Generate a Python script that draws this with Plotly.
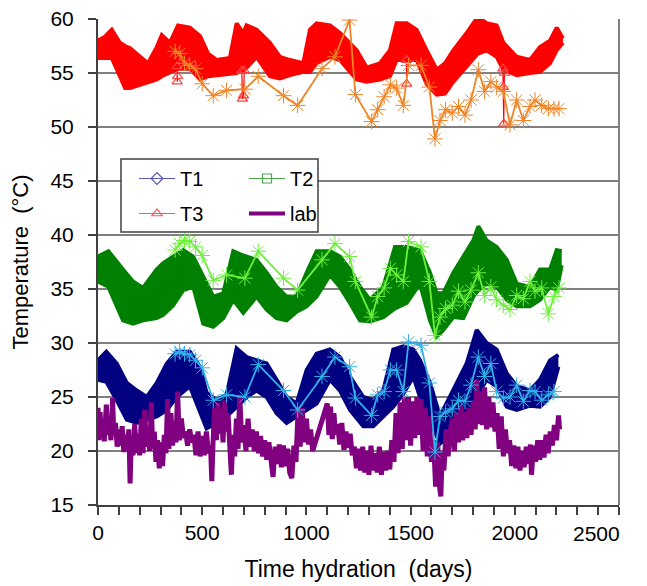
import plotly.graph_objects as go

# ---- continuous logger records: lower / upper envelope of the daily swing ----
t1_day = [0, 40, 90, 138, 186, 234, 282, 330, 378, 441, 489, 521, 569, 617, 665, 713, 761, 809, 857, 905,
          953, 1001, 1049, 1113, 1161, 1209, 1273, 1321, 1369, 1417, 1465, 1513, 1545, 1593, 1641, 1673,
          1721, 1769, 1817, 1865, 1913, 1961, 2009, 2073, 2121, 2169, 2209]
t1_lo = [26.6, 26.4, 24.7, 22.9, 22.6, 22.9, 23.2, 23.8, 25.0, 26.0, 23.5, 22.1, 22.6, 23.2, 24.1, 25.0, 25.6,
         25.0, 23.5, 22.6, 23.2, 23.8, 24.4, 26.6, 25.6, 23.8, 22.3, 22.3, 23.2, 24.1, 25.3, 26.9, 25.0, 22.9,
         20.7, 21.2, 22.6, 23.5, 25.0, 26.6, 26.0, 24.1, 23.8, 24.2, 24.1, 25.0, 27.8]
t1_hi = [28.4, 29.2, 28.1, 26.3, 25.6, 25.0, 26.3, 28.1, 29.2, 29.2, 27.8, 25.4, 24.7, 25.2, 29.5, 28.7, 28.4,
         28.1, 26.6, 25.0, 24.4, 27.5, 29.0, 29.4, 28.7, 26.9, 25.0, 24.7, 25.6, 29.4, 29.7, 29.4, 28.4, 26.3,
         23.2, 24.4, 26.3, 28.1, 31.2, 30.0, 29.4, 27.2, 26.0, 25.6, 26.6, 28.4, 28.9]

t2_day = [0, 50, 120, 168, 216, 281, 313, 361, 409, 457, 505, 553, 601, 649, 697, 761, 809, 857, 905, 953,
          1001, 1049, 1113, 1161, 1209, 1257, 1305, 1369, 1425, 1481, 1545, 1593, 1625, 1657, 1705, 1753,
          1801, 1825, 1865, 1913, 1961, 2009, 2073, 2121, 2169, 2201, 2225]
t2_lo = [35.7, 35.2, 32.1, 31.8, 32.1, 32.3, 32.6, 33.5, 34.9, 35.2, 31.8, 31.5, 32.3, 34.0, 32.8, 34.3, 33.1,
         32.3, 32.1, 32.9, 33.4, 34.3, 36.3, 35.2, 33.7, 32.1, 32.0, 32.4, 33.2, 33.7, 35.5, 32.1, 30.6, 31.2,
         32.4, 32.3, 34.3, 34.9, 35.5, 35.2, 34.0, 33.4, 33.4, 34.0, 35.2, 34.9, 37.2]
t2_hi = [38.0, 38.5, 36.8, 35.7, 35.1, 36.8, 37.4, 38.0, 38.6, 38.0, 36.1, 34.3, 34.6, 38.5, 38.1, 37.7, 36.5,
         35.2, 34.3, 34.3, 36.5, 38.5, 38.5, 38.0, 36.8, 35.2, 34.0, 35.2, 38.9, 38.9, 38.6, 36.5, 34.6, 34.6,
         36.5, 38.0, 39.5, 40.8, 39.5, 38.9, 37.7, 35.5, 35.2, 36.8, 36.8, 38.6, 38.5]

t3_day = [0, 30, 66, 105, 130, 154, 202, 240, 282, 306, 345, 384, 441, 490, 528, 570, 633, 665, 697, 713, 761,
          825, 873, 921, 985, 1017, 1049, 1113, 1161, 1241, 1289, 1353, 1401, 1433, 1481, 1529, 1577, 1625,
          1665, 1705, 1769, 1823, 1865, 1913, 1945, 2009, 2073, 2121, 2169, 2201, 2231]
t3_lo = [56.4, 56.4, 56.4, 54.7, 53.6, 53.6, 53.9, 54.2, 54.4, 54.7, 55.1, 55.4, 55.4, 54.4, 54.7, 54.8, 55.0,
         55.0, 55.3, 55.5, 56.5, 54.7, 54.5, 54.8, 55.1, 55.1, 55.9, 56.5, 56.2, 54.4, 54.2, 54.4, 54.7, 56.2,
         56.2, 56.2, 54.0, 53.0, 53.1, 54.2, 55.6, 56.8, 57.1, 56.5, 55.3, 54.8, 55.0, 55.1, 55.9, 57.1, 57.8]
t3_hi = [58.0, 58.3, 59.0, 57.8, 57.5, 57.3, 56.5, 55.9, 57.4, 58.5, 57.8, 59.4, 59.2, 58.4, 56.8, 56.2, 56.4,
         59.6, 58.7, 59.4, 59.0, 57.8, 56.5, 56.2, 55.9, 59.0, 59.6, 59.4, 58.7, 57.1, 55.5, 55.9, 57.1, 59.6,
         59.6, 59.0, 57.1, 55.3, 55.9, 57.1, 58.7, 60.2, 59.6, 59.4, 57.8, 56.5, 56.2, 57.4, 58.0, 59.2, 58.2]

# isolated low T3 readings (band value -> low reading -> band value)
t3_dip_day = [380, 380, 382, None, 690, 693, 698, 702, None, 1480, 1481, None, 1943, 1945, 1947, 1950]
t3_dip_val = [55.6, 54.2, 54.7, None, 55.2, 52.6, 52.9, 55.2, None, 56.2, 54.0, None, 55.4, 53.7, 50.3, 55.0]

# laboratory air temperature
lab_day = [0, 4, 10, 16, 24, 30, 40, 46, 55, 62, 70, 76, 84, 92, 100, 108, 116, 124, 132, 140, 148, 154, 160,
           168, 176, 184, 192, 200, 208, 216, 224, 232, 240, 248, 256, 262, 270, 278, 286, 294, 302, 310, 318,
           326, 334, 340, 350, 358, 366, 374, 382, 390, 400, 410, 420, 430, 440, 450, 460, 470, 480, 490, 500,
           510, 520, 530, 540, 546, 552, 560, 568, 576, 584, 592, 600, 608, 616, 624, 632, 640, 648, 656, 664,
           672, 680, 690, 700, 710, 720, 730, 740, 750, 760, 770, 780, 790, 800, 810, 820, 830, 840, 850, 860,
           870, 880, 890, 900, 910, 920, 930, 940, 950, 960, 970, 980, 990, 1000, 1010, 1020, 1030, 1100, 1108,
           1116, 1124, 1132, 1140, 1150, 1160, 1170, 1180, 1190, 1200, 1210, 1220, 1230, 1240, 1250, 1260,
           1270, 1280, 1290, 1300, 1310, 1320, 1330, 1340, 1350, 1360, 1370, 1380, 1390, 1400, 1410, 1420,
           1430, 1440, 1450, 1460, 1470, 1480, 1490, 1500, 1510, 1520, 1530, 1540, 1550, 1560, 1570, 1580,
           1590, 1600, 1610, 1620, 1630, 1640, 1645, 1652, 1660, 1670, 1680, 1690, 1700, 1710, 1720, 1730,
           1740, 1750, 1760, 1770, 1780, 1790, 1800, 1810, 1817, 1825, 1835, 1845, 1855, 1865, 1875, 1885,
           1895, 1905, 1915, 1925, 1935, 1945, 1955, 1965, 1975, 1985, 1995, 2005, 2015, 2025, 2035, 2045,
           2055, 2065, 2075, 2080, 2090, 2100, 2110, 2120, 2130, 2140, 2150, 2160, 2170, 2180, 2190, 2200,
           2210, 2215]
lab_val = [24.0, 21.0, 23.6, 21.3, 22.5, 20.9, 24.3, 21.5, 22.8, 21.0, 24.9, 21.4, 22.6, 20.4, 22.0, 20.5, 22.3,
           19.9, 21.5, 20.0, 22.0, 17.0, 21.3, 19.6, 22.5, 19.8, 21.6, 19.6, 23.0, 19.8, 23.8, 20.4, 22.2, 20.0,
           24.5, 20.2, 21.8, 19.0, 21.0, 18.4, 20.8, 18.6, 21.5, 19.8, 24.8, 20.2, 23.5, 20.5, 22.8, 20.8, 25.5,
           21.0, 23.0, 21.2, 21.8, 20.5, 22.0, 20.8, 21.5, 19.6, 21.8, 19.5, 21.4, 19.6, 21.8, 19.8, 20.5, 17.2,
           20.8, 24.0, 21.0, 24.5, 21.6, 23.8, 20.8, 24.7, 21.8, 23.5, 20.6, 17.8, 21.5, 19.5, 23.0, 20.2, 25.2,
           20.8, 22.4, 20.0, 23.0, 20.4, 22.0, 20.0, 21.8, 19.8, 21.4, 19.5, 21.0, 19.2, 20.8, 18.8, 17.6, 20.4,
           18.8, 20.6, 18.5, 20.5, 18.6, 20.2, 18.0, 17.5, 20.5, 19.0, 23.8, 20.4, 24.0, 20.8, 23.0, 20.6, 22.0,
           20.0, 24.4, 21.5, 24.1, 21.1, 23.5, 21.5, 22.5, 20.6, 22.6, 20.1, 21.8, 20.3, 21.6, 19.6, 20.4, 18.4,
           20.2, 18.2, 20.4, 18.0, 20.0, 17.8, 20.5, 18.2, 19.8, 18.0, 20.4, 17.8, 19.9, 18.2, 20.0, 18.3, 21.0,
           19.0, 23.5, 19.8, 24.5, 20.2, 24.9, 21.0, 25.0, 20.5, 24.6, 21.2, 25.0, 21.5, 24.8, 20.0, 24.0, 19.5,
           23.2, 19.0, 21.0, 16.7, 20.8, 16.5, 15.8, 20.0, 18.2, 22.0, 19.5, 21.8, 23.0, 20.0, 23.5, 20.8, 24.2,
           21.0, 23.6, 21.2, 24.0, 21.5, 24.5, 22.0, 26.6, 22.5, 25.5, 22.4, 25.9, 22.0, 25.0, 22.2, 24.5, 21.8,
           23.5, 20.2, 23.2, 19.5, 22.0, 19.8, 21.0, 18.6, 20.5, 18.4, 20.4, 18.2, 20.0, 18.5, 20.4, 18.8, 20.6,
           17.8, 20.5, 19.0, 21.0, 19.2, 21.0, 19.4, 21.5, 19.8, 21.8, 20.5, 22.4, 21.0, 23.3, 22.0]

# ---- periodic hand-held readings ----
man_day = [370, 392, 415, 440, 468, 500, 553, 617, 705, 769, 890, 958, 1075, 1137, 1207, 1235, 1313, 1342,
           1373, 1403, 1433, 1465, 1490, 1550, 1590, 1617, 1641, 1668, 1700, 1730, 1761, 1790, 1825, 1855,
           1885, 1913, 1945, 1977, 2009, 2041, 2073, 2097, 2129, 2161, 2188, 2212]
man_t1 = [29.0, 29.2, 29.0, 28.9, 28.4, 27.7, 24.7, 25.2, 25.0, 28.0, 25.6, 23.8, 26.9, 28.7, 27.8, 24.9, 23.3,
          25.2, 25.5, 27.5, 27.5, 25.5, 30.1, 29.8, 26.3, 19.9, 23.2, 23.6, 23.9, 24.7, 24.6, 26.1, 28.7, 26.9,
          28.1, 25.5, 24.9, 25.0, 26.1, 24.6, 25.6, 25.5, 24.7, 25.2, 25.5, None]
man_t2 = [38.6, 39.2, 39.5, 39.4, 38.9, 38.1, 35.8, 36.3, 36.0, 38.5, 36.0, 34.9, 37.7, 39.2, 38.0, 35.7, 32.4,
          34.3, 35.1, 36.9, 36.3, 35.7, 39.4, 38.9, 35.7, 30.7, 32.4, 33.2, 33.5, 34.8, 33.8, 34.9, 36.5, 34.4,
          35.2, 34.0, 33.5, 33.1, 34.4, 34.1, 35.7, 34.8, 35.1, 32.7, 34.3, 35.1]
man_t3 = [57.0, 56.8, 55.9, 55.7, 55.4, 54.0, 52.9, 53.4, 53.5, 54.7, 52.9, 52.0, 55.4, 56.5, 59.9, 53.0, 50.5,
          51.6, 52.8, 53.9, 53.6, 52.0, 55.7, 55.7, 53.7, 48.9, 50.6, 51.6, 51.3, 51.9, 51.1, 52.5, 55.3, 53.3,
          54.2, 53.7, 53.3, 50.2, 52.5, 50.6, 51.9, 52.5, 52.0, 51.7, 51.7, 51.7]

x_ticks = [0, 500, 1000, 1500, 2000, 2500]
x_labels = ["0", "500", "1000", "1500", "2000", ""]
y_ticks = [15, 20, 25, 30, 35, 40, 45, 50, 55, 60]

NAVY, GREEN, RED, PURPLE = "#000080", "#008000", "#FF0000", "#800080"
FONT = "Liberation Sans"

fig = go.Figure()


def band(days, lo, hi, color):
    fig.add_trace(go.Scatter(x=days, y=lo, mode="lines", line=dict(color=color, width=4),
                             showlegend=False, hoverinfo="skip"))
    fig.add_trace(go.Scatter(x=days, y=hi, mode="lines", line=dict(color=color, width=4),
                             fill="tonexty", fillcolor=color, showlegend=False, hoverinfo="skip"))


band(t1_day, t1_lo, t1_hi, NAVY)
band(t2_day, t2_lo, t2_hi, GREEN)
band(t3_day, t3_lo, t3_hi, RED)

fig.add_trace(go.Scatter(x=t3_dip_day, y=t3_dip_val, mode="lines+markers",
                         line=dict(color=RED, width=1.2),
                         marker=dict(symbol="triangle-up-open", size=9, color="#FF4040",
                                     line=dict(width=1.2)),
                         showlegend=False))

fig.add_trace(go.Scatter(x=lab_day, y=lab_val, mode="lines", line=dict(color=PURPLE, width=5),
                         showlegend=False))


def manual(vals, color):
    fig.add_trace(go.Scatter(x=man_day, y=vals, mode="lines+markers",
                             line=dict(color=color, width=1.8),
                             marker=dict(symbol="asterisk-open", size=13, color=color,
                                         line=dict(color=color, width=1)),
                             connectgaps=True, showlegend=False))


manual(man_t1, "#2FB0E8")
manual(man_t2, "#6CF03C")
manual(man_t3, "#EE8426")

# legend entries
legend_font = dict(family=FONT, size=20, color="black")
fig.add_trace(go.Scatter(x=[None], y=[None], name="T1", mode="lines+markers", legend="legend",
                         legendgroup="a",
                         line=dict(color="#5A5AB4", width=1.2),
                         marker=dict(symbol="diamond-open", size=9, color="#5A5AB4", line=dict(width=1.2))))
fig.add_trace(go.Scatter(x=[None], y=[None], name="T3", mode="lines+markers", legend="legend",
                         legendgroup="b",
                         line=dict(color="#FF5A5A", width=1.2),
                         marker=dict(symbol="triangle-up-open", size=9, color="#FF5A5A", line=dict(width=1.2))))
fig.add_trace(go.Scatter(x=[None], y=[None], name="T2", mode="lines+markers", legend="legend2",
                         legendgroup="c",
                         line=dict(color="#4CA84C", width=1.2),
                         marker=dict(symbol="square-open", size=9, color="#4CA84C", line=dict(width=1.2))))
fig.add_trace(go.Scatter(x=[None], y=[None], name="lab", mode="lines", legend="legend2",
                         legendgroup="d",
                         line=dict(color=PURPLE, width=4)))

# plot-area geometry in pixels
L, R, T, B = 98, 28, 19, 81
W, H = 647, 586
pw, ph = W - L - R, H - T - B


def px_x(px):
    return (px - L) / pw


def px_y(py):
    return (H - B - py) / ph


legend_common = dict(xanchor="left", yanchor="top", bgcolor="rgba(0,0,0,0)", borderwidth=0,
                     font=legend_font, traceorder="grouped", tracegroupgap=6, itemwidth=36)

fig.update_layout(
    width=W, height=H,
    margin=dict(l=L, r=R, t=T, b=B, autoexpand=False),
    paper_bgcolor="white", plot_bgcolor="white",
    font=dict(family=FONT, size=21, color="black"),
    legend=dict(x=px_x(134), y=px_y(159), **legend_common),
    legend2=dict(x=px_x(244), y=px_y(159), **legend_common),
    shapes=[
        dict(type="rect", xref="paper", yref="paper", x0=px_x(121), x1=px_x(318),
             y0=px_y(232), y1=px_y(159), line=dict(color="#404040", width=1.5),
             fillcolor="white", layer="above"),
        dict(type="line", xref="paper", yref="paper", x0=1, x1=1, y0=0, y1=1,
             line=dict(color="#808080", width=2)),
    ],
    annotations=[
        dict(text="2500", x=2500, xref="x", y=0, yref="paper", xanchor="right", yanchor="top",
             xshift=3, yshift=-15, showarrow=False, font=dict(family=FONT, size=21, color="black")),
    ],
    xaxis=dict(range=[0, 2500], tickvals=x_ticks, ticktext=x_labels, ticks="outside", ticklen=8,
               tickwidth=1.5, tickcolor="#404040", showline=True, linecolor="#404040", linewidth=2,
               showgrid=False, zeroline=False,
               minor=dict(dtick=100, ticks="outside", ticklen=8, tickwidth=1.5, tickcolor="#404040",
                          showgrid=False),
               tickfont=dict(family=FONT, size=21), ticklabelstandoff=0,
               title=dict(text="Time hydration\u00a0 (days)", font=dict(family=FONT, size=23),
                          standoff=18)),
    yaxis=dict(range=[15, 60], tickvals=y_ticks, ticks="outside", ticklen=8, tickwidth=1.5,
               tickcolor="#404040", showline=True, linecolor="#404040", linewidth=2,
               showgrid=True, gridcolor="#808080", gridwidth=1.5, zeroline=False,
               tickfont=dict(family=FONT, size=21), ticklabelstandoff=10,
               title=dict(text="Temperature\u00a0 (°C)", font=dict(family=FONT, size=22),
                          standoff=16)),
)

fig.write_html("out.html")
